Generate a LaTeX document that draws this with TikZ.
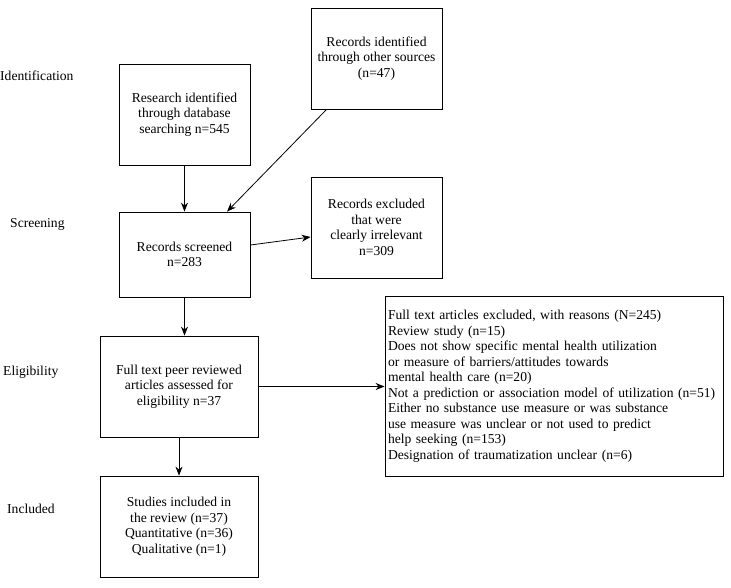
\documentclass[tikz,border=0pt]{standalone}
\usepackage{fontspec}
\setmainfont{Liberation Serif}
\usetikzlibrary{arrows.meta,calc}
\begin{document}
\begin{tikzpicture}[x=1pt,y=-1pt,
  every node/.style={font=\fontsize{13.6}{15.5}\selectfont},
  box/.style={draw,line width=0.8pt,inner sep=2pt,align=center},
  stage/.style={anchor=west,inner sep=0pt},
  arr/.style={line width=0.8pt,-{Stealth[length=9pt,width=7pt]}}]
\useasboundingbox (0,0) rectangle (731,587);
\node[box,minimum width=131pt,minimum height=101pt] (A) at (184.5,114.5) {Research identified\\through database\\ searching n=545};
\node[box,minimum width=131pt,minimum height=101pt] (B) at (376.5,58.5) {Records identified\\through other sources\\(n=47)};
\node[box,minimum width=131pt,minimum height=85pt] (C) at (184.5,254.5) {Records screened\\n=283};
\node[box,minimum width=131pt,minimum height=101pt] (D) at (376.5,227.5) {Records excluded\\that were\\clearly irrelevant\\n=309};
\node[box,minimum width=158pt,minimum height=101pt] (E) at (179,386.5) {Full text peer reviewed\\ articles assessed for\\eligibility n=37};
\node[box,minimum width=338pt,minimum height=180pt,align=left,text width=332pt] (F) at (554,386) {Full text articles excluded, with reasons (N=245)\\Review study (n=15)\\Does not show specific mental health utilization\\or measure of barriers/attitudes towards\\mental health care (n=20)\\Not a prediction or association model of utilization (n=51)\\Either no substance use measure or was substance\\use measure was unclear or not used to predict\\help seeking (n=153)\\Designation of traumatization unclear (n=6)};
\node[box,minimum width=158pt,minimum height=101pt] (G) at (179,526.5) {Studies included in\\the review (n=37)\\Quantitative (n=36)\\Qualitative (n=1)};
\node[stage] (L1) at (0,76) {Identification};
\node[stage] (L2) at (10,224) {Screening};
\node[stage] (L3) at (3,372) {Eligibility};
\node[stage] (L4) at (7,509) {Included};
\draw[arr] (A.south) -- (C.north);
\draw[arr] ($(B.south west)+(16,0)$) -- ($(C.north)+(42.5,0)$);
\draw[arr] ($(C.east)+(0,-9.5)$) -- ($(D.west)+(0,9.5)$);
\draw[arr] (C.south) -- (C.south |- E.north);
\draw[arr] (E.east) -- (E.east -| F.west);
\draw[arr] (E.south) -- (G.north);
\end{tikzpicture}
\end{document}
